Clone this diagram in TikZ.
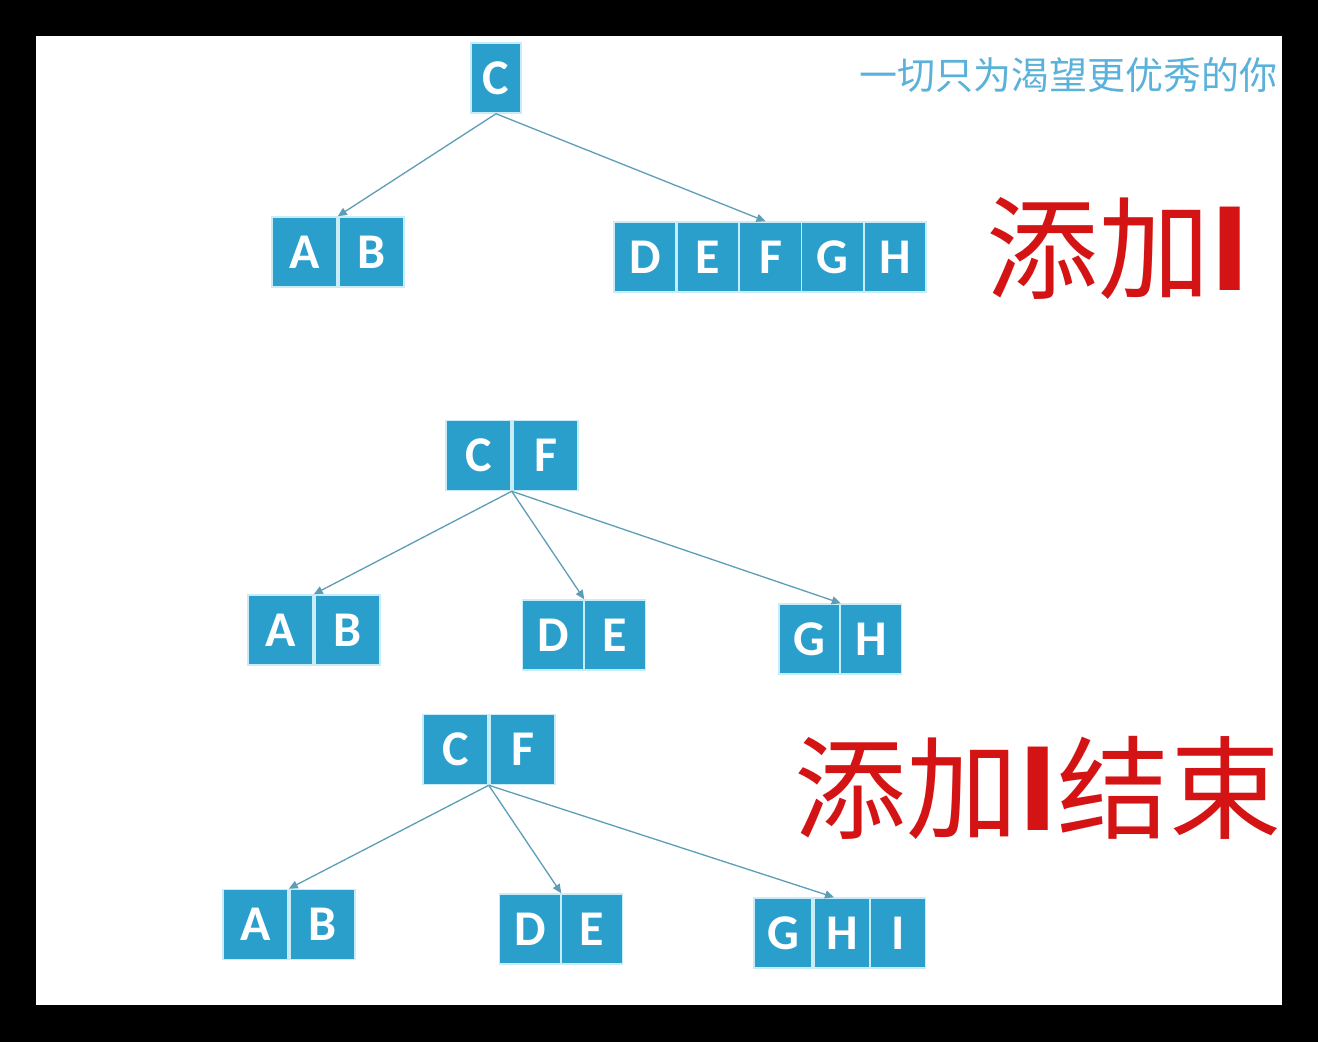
\documentclass[tikz,border=0pt]{standalone}
\usepackage{fontspec}
\setmainfont{Carlito}
\newfontfamily\cjk{Noto Sans CJK SC}
\usetikzlibrary{arrows.meta,calc}
\definecolor{boxblue}{HTML}{2A9FCB}
\definecolor{boxline}{HTML}{C8ECF8}
\definecolor{edgecol}{HTML}{5D9DB5}
\definecolor{redtxt}{HTML}{D41414}
\definecolor{slogan}{HTML}{5AB2DA}
\tikzset{
  bx/.style={fill=boxblue, draw=boxline, line width=1.5pt, inner sep=0pt,
    minimum height=70pt, text=white, font=\fontsize{50}{50}\selectfont\bfseries},
  edge/.style={draw=edgecol, line width=1.3pt, -{Triangle[length=9pt,width=8pt]}},
  bigred/.style={text=redtxt, font=\cjk\fontsize{112}{112}\selectfont, inner sep=0pt, anchor=west},
}
\begin{document}
\begin{tikzpicture}[x=1pt,y=-1pt]
\useasboundingbox (0,0) rectangle (1318,1042);
\fill[black] (0,0) rectangle (1318,1042);
\fill[white] (36,36) rectangle (1282,1005);

% slogan
\node[text=slogan, font=\cjk\fontsize{38}{38}\selectfont, inner sep=0pt, anchor=east] (slogan) at (1278,75) {一切只为渴望更优秀的你};

% ---------- row 1 ----------
\node[bx, minimum width=50pt] (c1) at (496,78) {C};
\node[bx, minimum width=65pt] (a1) at (304.5,252) {A};
\node[bx, minimum width=65pt] (b1) at (371.5,252) {B};
\node[bx, minimum width=62pt] (d1) at (645,257) {D};
\node[bx, minimum width=62pt] (e1) at (708,257) {E};
\node[bx, minimum width=62pt] (f1) at (770.5,257) {F};
\node[bx, minimum width=62pt] (g1) at (832.5,257) {G};
\node[bx, minimum width=62pt] (h1) at (895,257) {H};
\draw[edge] (c1.south) -- (a1.north east);
\draw[edge] (c1.south) -- ($(f1.north)+(-5,0)$);

\node[bigred] (t1) at (986,248) {添加{\bfseries I}};

% ---------- row 2 ----------
\node[bx, minimum width=65pt] (c2) at (478.5,455.5) {C};
\node[bx, minimum width=65pt] (f2) at (545.5,455.5) {F};
\node[bx, minimum width=65pt] (a2) at (280.5,630) {A};
\node[bx, minimum width=65pt] (b2) at (347.5,630) {B};
\node[bx, minimum width=61pt] (d2) at (553,635) {D};
\node[bx, minimum width=61pt] (e2) at (615,635) {E};
\node[bx, minimum width=61pt] (g2) at (809.5,639) {G};
\node[bx, minimum width=61pt] (h2) at (871,639) {H};
\draw[edge] (c2.south east) -- (a2.north east);
\draw[edge] (c2.south east) -- (d2.north east);
\draw[edge] (c2.south east) -- (g2.north east);

% ---------- row 3 ----------
\node[bx, minimum width=65pt] (c3) at (455.5,749.5) {C};
\node[bx, minimum width=65pt] (f3) at (522.5,749.5) {F};
\node[bx, minimum width=65pt] (a3) at (255.5,924.5) {A};
\node[bx, minimum width=65pt] (b3) at (322.5,924.5) {B};
\node[bx, minimum width=61pt] (d3) at (530,929) {D};
\node[bx, minimum width=61pt] (e3) at (592,929) {E};
\node[bx, minimum width=58pt] (g3) at (783,933) {G};
\node[bx, minimum width=56pt] (h3) at (842,933) {H};
\node[bx, minimum width=55pt] (i3) at (898,933) {I};
\draw[edge] (c3.south east) -- (a3.north east);
\draw[edge] (c3.south east) -- (d3.north east);
\draw[edge] (c3.south east) -- ($(h3.north)+(-8,0)$);

\node[bigred] (t2) at (794,788) {添加{\bfseries I}结束};
\end{tikzpicture}
\end{document}
